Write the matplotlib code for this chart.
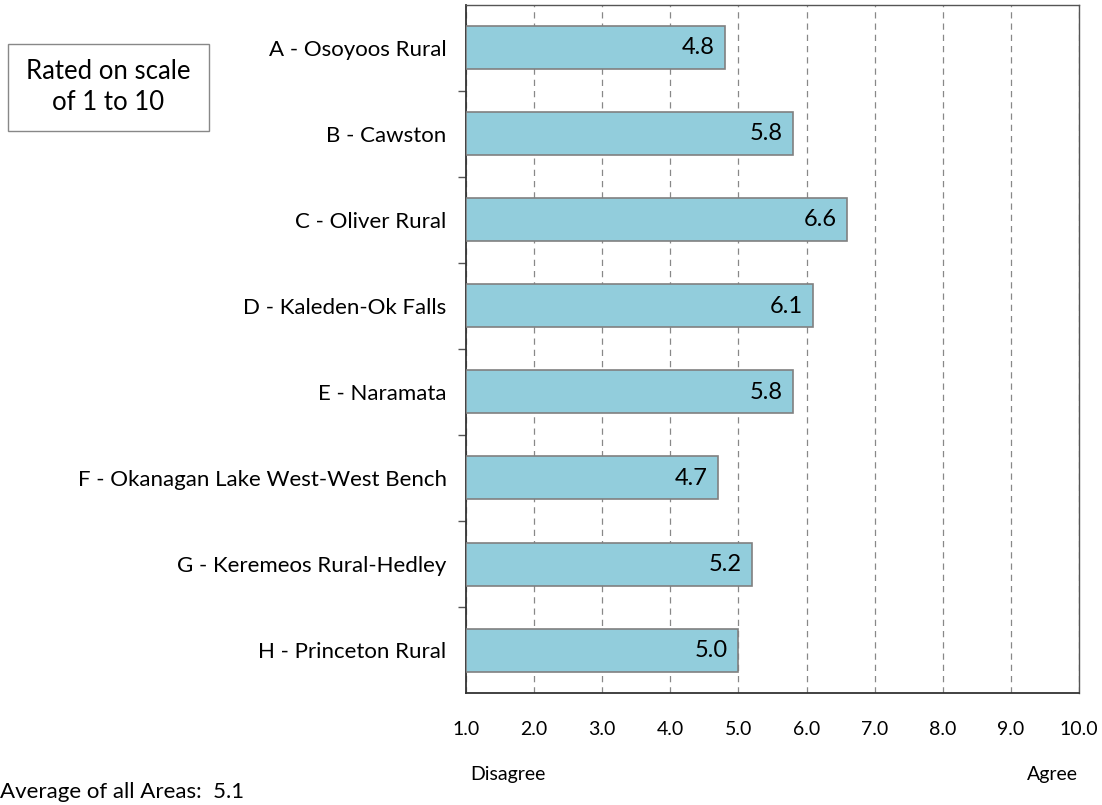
import matplotlib.pyplot as plt
from matplotlib.patches import Rectangle

plt.rcParams['font.family'] = ['Lato', 'DejaVu Sans']

areas = ['A - Osoyoos Rural', 'B - Cawston', 'C - Oliver Rural', 'D - Kaleden-Ok Falls',
         'E - Naramata', 'F - Okanagan Lake West-West Bench', 'G - Keremeos Rural-Hedley',
         'H - Princeton Rural']
scores = [4.8, 5.8, 6.6, 6.1, 5.8, 4.7, 5.2, 5.0]
xticks = [1, 2, 3, 4, 5, 6, 7, 8, 9, 10]
average = 5.1

fig = plt.figure(figsize=(11.02, 8.05), dpi=100)
ax = fig.add_axes([466 / 1102, 1 - 693 / 805, (1079 - 466) / 1102, (693 - 5) / 805])

ypos = list(range(len(areas)))
ax.barh(ypos, [s - 1 for s in scores], left=1, height=0.5,
        color='#92CDDC', edgecolor='#808080', linewidth=1.2, zorder=3)
for y, s in zip(ypos, scores):
    ax.text(s - 0.15, y, f'{s:.1f}', ha='right', va='center', fontsize=17, zorder=4)

ax.set_xlim(1, 10)
ax.set_ylim(len(areas) - 0.5, -0.5)
ax.set_xticks(xticks)
ax.set_xticklabels([f'{v:.1f}' for v in xticks], fontsize=14)
ax.tick_params(axis='x', length=0, pad=20)
ax.set_yticks(ypos)
ax.set_yticklabels(areas, fontsize=16)
ax.tick_params(axis='y', length=0, pad=14)
ax.set_yticks([y + 0.5 for y in ypos[:-1]], minor=True)
ax.tick_params(axis='y', which='minor', length=6, width=1, color='#555555')
ax.xaxis.grid(True, linestyle=(0, (5, 4)), color='#888888', linewidth=0.9, zorder=0)

for side in ['left', 'bottom']:
    ax.spines[side].set_color('#333333')
    ax.spines[side].set_linewidth(1.3)
for side in ['top', 'right']:
    ax.spines[side].set_color('#555555')
    ax.spines[side].set_linewidth(1)

fig.text(508 / 1102, 1 - 774 / 805, 'Disagree', ha='center', va='center', fontsize=14)
fig.text(1052 / 1102, 1 - 774 / 805, 'Agree', ha='center', va='center', fontsize=14)
fig.text(0, 1 - 792 / 805, f'Average of all Areas:  {average}', ha='left', va='center', fontsize=16)

fig.patches.append(Rectangle((8 / 1102, 1 - 131 / 805), 201 / 1102, 87 / 805,
                             transform=fig.transFigure, facecolor='white',
                             edgecolor='#888888', linewidth=1))
fig.text(108 / 1102, 1 - 87 / 805, 'Rated on scale\nof 1 to 10', ha='center', va='center',
         fontsize=18.5, linespacing=1.3)

fig.savefig('out.png', dpi=100)
